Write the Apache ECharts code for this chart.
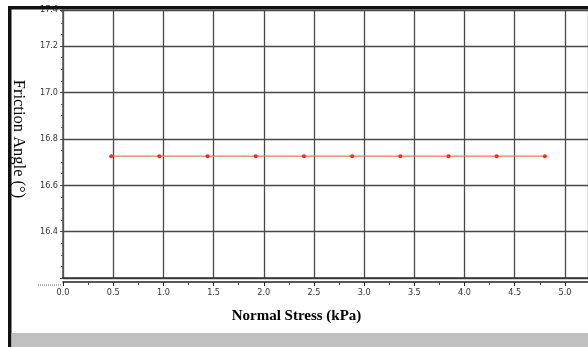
<!DOCTYPE html>
<html><head><meta charset="utf-8">
<script src="https://cdn.jsdelivr.net/npm/echarts@6/dist/echarts.min.js"></script>
<style>html,body{margin:0;padding:0;background:#fff}#c{width:588px;height:347px}</style>
</head><body><div id="c"></div>
<script>
var stress = [0.48, 0.96, 1.44, 1.92, 2.40, 2.88, 3.36, 3.84, 4.32, 4.80];
var friction = [16.77, 16.77, 16.77, 16.77, 16.77, 16.77, 16.77, 16.77, 16.77, 16.77];
var xTitle = 'Normal Stress (kPa)';
var yTitle = 'Friction Angle (\u00B0)';

var chart = echarts.init(document.getElementById('c'));
var tickFont = {fontFamily:'"DejaVu Sans Condensed", "Liberation Sans Narrow", "Liberation Sans", sans-serif', fontSize:9, color:'#333'};
chart.setOption({
  animation:false,
  grid:{left:63, right:0, top:10, bottom:69, containLabel:false},
  xAxis:[{
    type:'value', min:0, max:5.23, interval:0.5, offset:4,
    name:xTitle, nameLocation:'middle', nameGap:27,
    nameTextStyle:{fontFamily:'Liberation Serif', fontWeight:'bold', fontSize:15, color:'#000', padding:[0,58,0,0]},
    axisLine:{show:true, lineStyle:{color:'#222', width:1.5}},
    axisTick:{show:true, inside:false, length:4, lineStyle:{color:'#222'}},
    minorTick:{show:true, splitNumber:2, length:3, lineStyle:{color:'#444'}},
    axisLabel:Object.assign({margin:6, formatter:function(v){return v.toFixed(1);}, showMaxLabel:false}, tickFont),
    splitLine:{show:true, lineStyle:{color:'#484848', width:1.3}}
  },{
    type:'value', min:0, max:5.23, position:'bottom',
    axisLine:{show:true, onZero:false, lineStyle:{color:'#333', width:1.5}},
    axisTick:{show:false}, axisLabel:{show:false}, splitLine:{show:false}
  }],
  yAxis:{
    type:'value', min:16.245, max:17.4, interval:0.2,
    name:yTitle, nameLocation:'middle', nameGap:36, nameRotate:-90,
    nameTextStyle:{fontFamily:'Liberation Serif', fontSize:16.5, color:'#000', padding:[0,10,0,0]},
    axisLine:{show:true, lineStyle:{color:'#555', width:1.5}},
    axisTick:{show:true, length:3, lineStyle:{color:'#444'}},
    minorTick:{show:true, splitNumber:4, length:2, lineStyle:{color:'#666'}},
    axisLabel:Object.assign({margin:5, showMinLabel:false, formatter:function(v){return v.toFixed(1);}}, tickFont),
    splitLine:{show:true, lineStyle:{color:'#484848', width:1.3}}
  },
  series:[{
    type:'line', xAxisIndex:0,
    data:stress.map(function(x,i){return [x, friction[i]];}),
    symbol:'circle', symbolSize:4,
    itemStyle:{color:'#ff2a10'},
    lineStyle:{color:'#f07a5a', width:1.2}
  }],
  graphic:[
    {type:'rect', z:100, shape:{x:8, y:6, width:580, height:3.5}, style:{fill:'#111'}},
    {type:'rect', z:100, shape:{x:8, y:6, width:3.5, height:341}, style:{fill:'#111'}},
    {type:'rect', z:100, shape:{x:11.5, y:333, width:577, height:14}, style:{fill:'#c0c0c0'}},
    {type:'line', z:100, shape:{x1:38, y1:285, x2:62, y2:285}, style:{stroke:'#666', lineWidth:1, lineDash:[1,1]}}
  ]
});
</script></body></html>
